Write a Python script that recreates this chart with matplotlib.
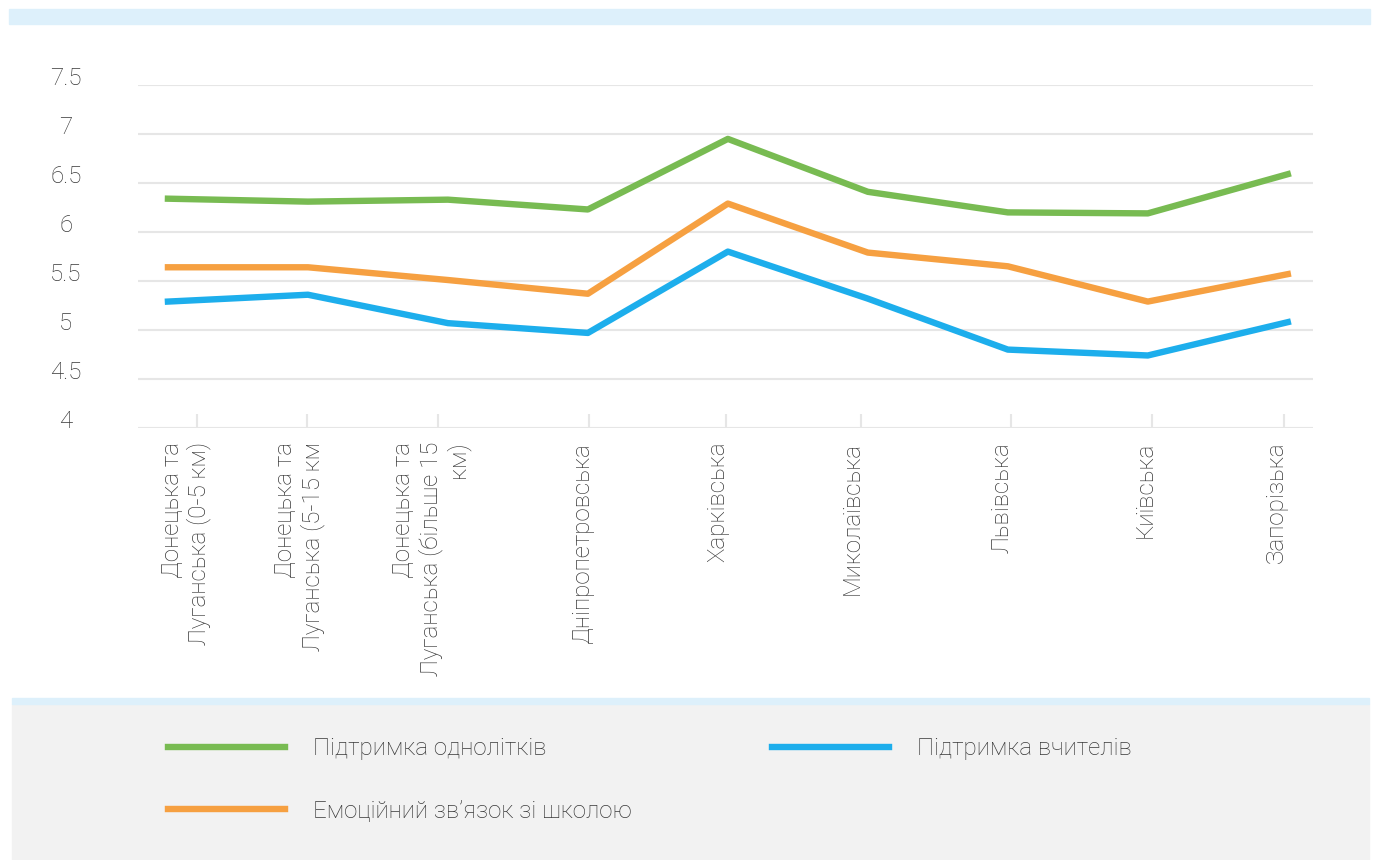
import matplotlib.pyplot as plt
from matplotlib.patches import Rectangle
from matplotlib.transforms import blended_transform_factory

plt.rcParams["font.family"] = ["Roboto", "DejaVu Sans"]

# -----------------------------
# Data
# -----------------------------
regions = [
    "Донецька та\nЛуганська (0-5 км)",
    "Донецька та\nЛуганська (5-15 км",
    "Донецька та\nЛуганська (більше 15\nкм)",
    "Дніпропетровська",
    "Харківська",
    "Миколаївська",
    "Львівська",
    "Київська",
    "Запорізька",
]
peer_support = [6.34, 6.31, 6.33, 6.23, 6.95, 6.41, 6.20, 6.19, 6.59]
school_bond = [5.64, 5.64, 5.51, 5.37, 6.29, 5.79, 5.65, 5.29, 5.57]
teacher_support = [5.29, 5.36, 5.07, 4.97, 5.80, 5.32, 4.80, 4.74, 5.08]

series_names = ["Підтримка однолітків", "Емоційний зв’язок зі школою", "Підтримка вчителів"]
y_ticks = [4, 4.5, 5, 5.5, 6, 6.5, 7, 7.5]

# layout: where the category labels / tick marks sit (category units)
label_x = [0.13, 0.94, 1.88, 2.96, 3.93, 4.89, 5.96, 6.98, 7.92]
tick_x = [0.21, 0.99, 1.93, 3.01, 3.99, 4.95, 6.02, 7.03, 7.97]

GREEN = "#78BB52"
ORANGE = "#F6A041"
BLUE = "#1DAEEC"
GRID = "#E6E6E6"
TEXT = "#383838"
FS = 17.4

W, H = 1376, 860
fig = plt.figure(figsize=(W / 100, H / 100), dpi=100)

# background bands
fig.patches.append(Rectangle((9 / W, 1 - 24 / H), 1361 / W, 15 / H,
                             transform=fig.transFigure, color="#DDF0FB", zorder=0))
fig.patches.append(Rectangle((12 / W, 0), 1357 / W, 1 - 704 / H,
                             transform=fig.transFigure, color="#F2F2F2", zorder=0))
fig.patches.append(Rectangle((12 / W, 1 - 704 / H), 1357 / W, 6 / H,
                             transform=fig.transFigure, color="#DDF0FB", zorder=0))

ax = fig.add_axes([138 / W, 1 - 428 / H, 1175 / W, 343 / H])
ax.set_facecolor("none")

x = list(range(len(regions)))
l1, = ax.plot(x, peer_support, color=GREEN, lw=4.6, clip_on=False, zorder=3)
l2, = ax.plot(x, school_bond, color=ORANGE, lw=4.6, clip_on=False, zorder=3)
l3, = ax.plot(x, teacher_support, color=BLUE, lw=4.6, clip_on=False, zorder=3)

ax.set_xlim(-0.214, 8.18)
ax.set_ylim(4, 7.5)

for s in ax.spines.values():
    s.set_visible(False)

ax.set_yticks(y_ticks)
ax.set_yticklabels([f"{v:g}" for v in y_ticks])
ax.yaxis.grid(True, color=GRID, lw=1.5)
ax.set_axisbelow(True)
ax.tick_params(axis="y", length=0, pad=52, labelsize=FS, labelcolor=TEXT)
for lbl in ax.get_yticklabels():
    lbl.set_ha("center")
    lbl.set_va("baseline")
    lbl.set_fontweight("light")

ax.set_xticks(tick_x)
ax.set_xticklabels([])
ax.tick_params(axis="x", direction="in", length=10, width=1.5, color=GRID)

trans = blended_transform_factory(ax.transData, ax.transAxes)
for xi, name in zip(label_x, regions):
    ax.text(xi, -0.04, name, transform=trans, rotation=90, ha="center", va="top",
            multialignment="right", fontsize=FS, color=TEXT, fontweight="light",
            linespacing=1.15)

leg = fig.legend([l1, l2, l3], series_names, loc="upper left",
                 bbox_to_anchor=(168 / W, 1 - 737 / H), ncol=2, frameon=False,
                 fontsize=FS, handlelength=4.85, handletextpad=1.15,
                 columnspacing=5.8, labelspacing=1.65, borderpad=0, borderaxespad=0)
for t in leg.get_texts():
    t.set_color(TEXT)
    t.set_fontweight("light")

fig.savefig("out.png", dpi=100)
